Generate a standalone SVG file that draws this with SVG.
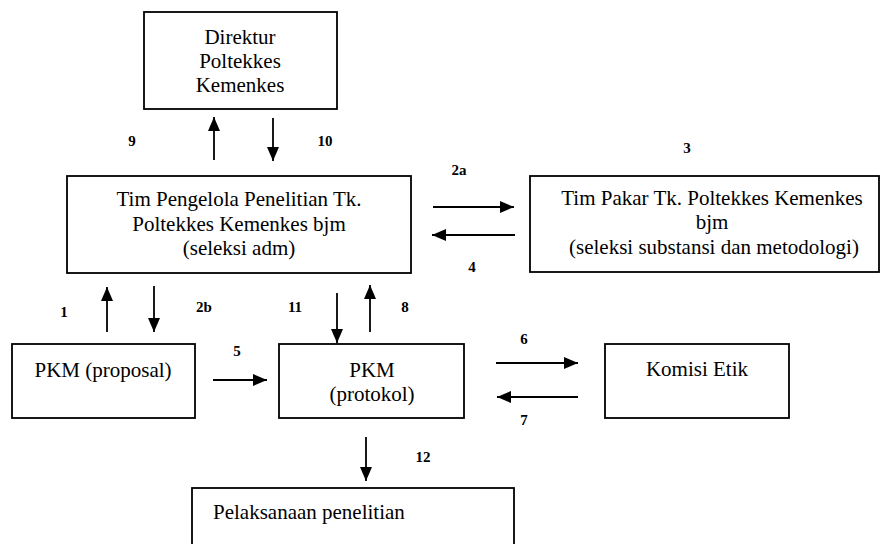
<svg xmlns="http://www.w3.org/2000/svg" width="881" height="544" viewBox="0 0 881 544">
<style>
.box{fill:#fff;stroke:#000;stroke-width:1.8}
.t{font-size:21px;fill:#000;text-anchor:middle}
.tl{font-size:21px;fill:#000}
.n{font-size:15px;font-weight:bold;fill:#000;text-anchor:middle}
.c{stroke:#000;stroke-width:1.8;fill:none;marker-end:url(#ah)}
</style>
<defs>
<marker id="ah" viewBox="0 0 14 12" refX="14" refY="6" markerUnits="userSpaceOnUse" markerWidth="14" markerHeight="12" orient="auto">
<path d="M0,0 L14,6 L0,12 Z" fill="#000"/>
</marker>
</defs>
<rect width="881" height="544" fill="#fff"/>
<g font-family="Liberation Serif, DejaVu Serif, serif">
<g id="direktur">
<rect class="box" x="144" y="12" width="193" height="97"/>
<text class="t" x="240" y="44">Direktur</text>
<text class="t" x="240" y="68">Poltekkes</text>
<text class="t" x="240" y="92">Kemenkes</text>
</g>
<g id="tim-pengelola">
<rect class="box" x="67" y="176" width="344" height="97"/>
<text class="t" x="239" y="206">Tim Pengelola Penelitian Tk.</text>
<text class="t" x="239" y="231">Poltekkes Kemenkes bjm</text>
<text class="t" x="239" y="255">(seleksi adm)</text>
</g>
<g id="tim-pakar">
<rect class="box" x="530" y="176" width="349" height="96"/>
<text class="t" x="712" y="205">Tim Pakar Tk. Poltekkes Kemenkes</text>
<text class="t" x="712" y="229">bjm</text>
<text class="t" x="714" y="254">(seleksi substansi dan metodologi)</text>
</g>
<g id="pkm-proposal">
<rect class="box" x="12" y="344" width="183" height="74"/>
<text class="t" x="103" y="377">PKM (proposal)</text>
</g>
<g id="pkm-protokol">
<rect class="box" x="279" y="344" width="185" height="74"/>
<text class="t" x="372" y="377">PKM</text>
<text class="t" x="372" y="401">(protokol)</text>
</g>
<g id="komisi-etik">
<rect class="box" x="605" y="344" width="184" height="74"/>
<text class="t" x="697" y="376">Komisi Etik</text>
</g>
<g id="pelaksanaan">
<rect class="box" x="192" y="488" width="322" height="70"/>
<text class="tl" x="213" y="519">Pelaksanaan penelitian</text>
</g>
<g id="connectors">
<line class="c" x1="214" y1="160" x2="214" y2="117"/>
<line class="c" x1="273" y1="118" x2="273" y2="161"/>
<line class="c" x1="433" y1="207" x2="514" y2="207"/>
<line class="c" x1="515" y1="235" x2="432" y2="235"/>
<line class="c" x1="107" y1="332" x2="107" y2="287"/>
<line class="c" x1="154" y1="286" x2="154" y2="332"/>
<line class="c" x1="337" y1="293" x2="337" y2="343"/>
<line class="c" x1="370" y1="332" x2="370" y2="285"/>
<line class="c" x1="213" y1="380" x2="267" y2="380"/>
<line class="c" x1="496" y1="363" x2="578" y2="363"/>
<line class="c" x1="578" y1="397" x2="497" y2="397"/>
<line class="c" x1="366" y1="437" x2="366" y2="481"/>
</g>
<g id="labels">
<text class="n" x="132" y="146">9</text>
<text class="n" x="325" y="146">10</text>
<text class="n" x="459" y="175">2a</text>
<text class="n" x="687" y="153">3</text>
<text class="n" x="472" y="272">4</text>
<text class="n" x="64" y="317">1</text>
<text class="n" x="204" y="312">2b</text>
<text class="n" x="295" y="312">11</text>
<text class="n" x="405" y="312">8</text>
<text class="n" x="237" y="356">5</text>
<text class="n" x="524" y="344">6</text>
<text class="n" x="524" y="425">7</text>
<text class="n" x="423" y="462">12</text>
</g>
</g>
</svg>
